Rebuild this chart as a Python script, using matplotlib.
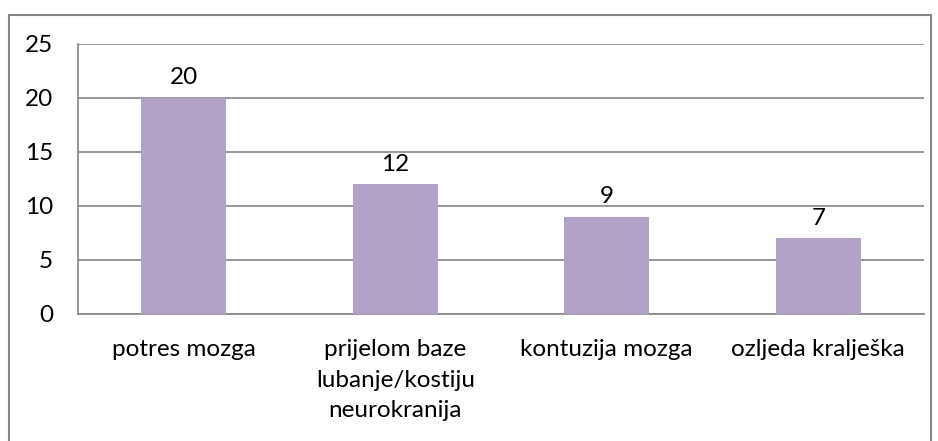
import matplotlib.pyplot as plt
from matplotlib.patches import Rectangle

categories = ['potres mozga', 'prijelom baze\nlubanje/kostiju\nneurokranija',
              'kontuzija mozga', 'ozljeda kralješka']
values = [20, 12, 9, 7]
yticks = [0, 5, 10, 15, 20, 25]

plt.rcParams['font.family'] = ['Lato', 'DejaVu Sans']
fig = plt.figure(figsize=(9.38, 4.41), dpi=100)
W, H = 938, 441
ax = fig.add_axes([78 / W, 1 - 314 / H, (924 - 78) / W, (314 - 44) / H])

fs = 17.5
grid_col = '#868686'
bars = ax.bar(range(len(values)), values, width=0.4, color='#B3A2C7', zorder=3)
ax.set_xlim(-0.5, len(values) - 0.5)
ax.set_ylim(0, 25)
ax.set_yticks(yticks)
ax.yaxis.grid(True, color=grid_col, linewidth=1.2, zorder=0)
ax.tick_params(axis='y', length=0, pad=18, labelsize=fs)
ax.set_xticks(range(len(values)))
ax.set_xticklabels(categories, fontsize=fs, linespacing=1.56, va='top')
ax.tick_params(axis='x', length=0, pad=18)

for s in ['top', 'right']:
    ax.spines[s].set_visible(False)
for s in ['left', 'bottom']:
    ax.spines[s].set_color(grid_col)
    ax.spines[s].set_linewidth(1.2)

for i, v in enumerate(values):
    ax.annotate(str(v), (i, v), xytext=(0, 7), textcoords='offset points',
                ha='center', va='bottom', fontsize=fs)

# outer chart border
fig.patches.append(Rectangle((9 / W, -0.1), (931 - 9) / W, 1.1 - 15 / H,
                             transform=fig.transFigure, fill=False,
                             edgecolor=grid_col, linewidth=1.5))

fig.savefig('out.png', dpi=100)
